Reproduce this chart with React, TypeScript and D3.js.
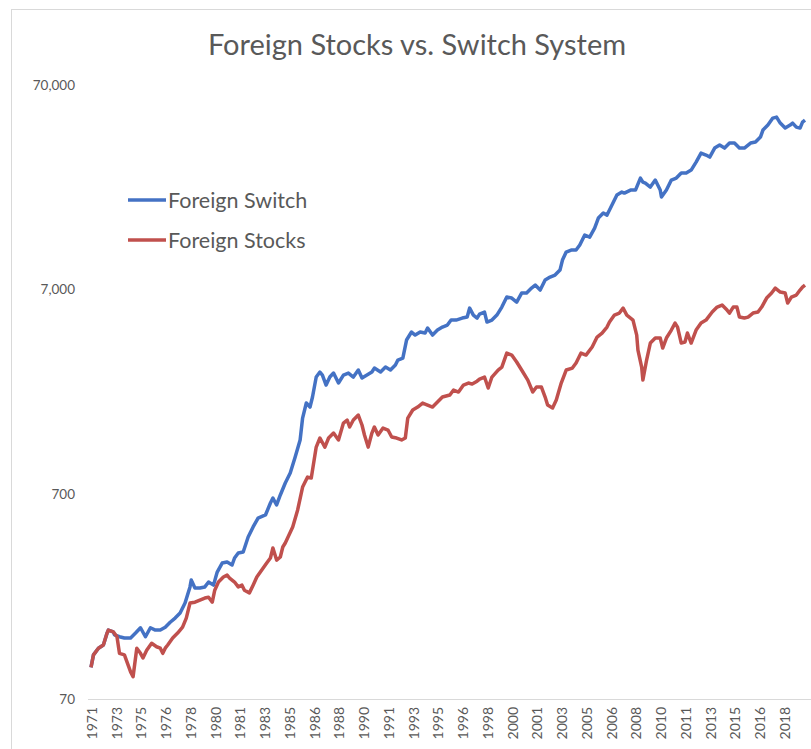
import React from 'react';
import * as d3 from 'd3';

// Monthly index (0 = first month, ~late 1971) and portfolio value
const switchMonths = [0,2,6,10,13,14,18,19,23,27,32,36,40,44,48,52,56,60,64,68,72,76,80,81,84,88,92,95,99,102,106,110,114,116,119,123,127,131,135,141,145,147,150,153,157,161,165,169,171,174,177,179,182,185,187,190,193,196,200,204,208,212,216,219,223,227,229,234,238,242,246,248,252,255,259,262,266,270,272,276,280,284,288,291,295,300,304,306,309,312,314,318,320,324,328,332,336,340,344,348,352,356,359,363,367,371,375,379,381,384,388,392,395,399,403,407,410,414,417,421,425,429,431,436,440,444,446,448,450,452,456,460,461,465,469,473,477,481,485,489,493,497,500,504,508,512,516,520,524,528,533,537,541,543,547,551,554,557,561,565,567,570,573,575,577];
const switchValues = [100,115,124,128.5,147,152,149,144,141,139,139,147,156,141,156,152,152,157,166,174,184,206,247,267,244,244,247,261,252,292,323,327,316,342,362,366,433,485,536,555,635,671,621,695,795,890,1065,1290,1651,1955,1869,2092,2619,2771,2678,2394,2619,2740,2449,2678,2740,2619,2834,2590,2678,2771,2898,2771,2931,2834,2997,3172,3244,3972,4346,4201,4346,4297,4544,4201,4444,4596,4701,4972,4972,5086,5143,5690,5258,5086,5319,5442,4862,4972,5258,5755,6441,6371,6089,6738,6738,7126,7371,6968,7797,8066,8248,8725,9767,10688,10935,10935,11567,12938,12646,13997,15666,16569,16198,18130,20293,20993,20755,21469,21469,24570,23492,23226,22701,22197,24017,21469,19845,21469,24017,24570,25991,25991,26887,29414,32543,31822,31115,34419,35602,34419,36414,36414,34419,34419,36414,36827,38962,42147,44583,48230,48776,45605,43120,44583,45605,43603,43120,46123,47166];

const stocksMonths = [0,2,6,10,13,14,18,21,23,27,32,34,37,40,42,45,49,53,56,58,60,62,66,70,74,77,80,84,88,92,95,98,100,103,107,110,112,116,119,122,124,128,131,134,138,142,145,147,150,153,155,157,163,167,171,175,178,182,185,189,192,196,200,204,207,209,212,216,219,221,224,227,229,232,236,240,243,247,251,254,256,260,264,268,272,276,280,284,290,293,297,301,305,308,312,314,318,321,324,329,332,336,340,344,349,353,357,360,364,367,369,373,376,380,384,389,392,396,400,405,409,413,417,419,423,427,430,433,436,438,441,442,445,446,449,452,456,460,462,465,469,472,474,477,480,482,485,489,493,497,502,506,510,514,516,519,522,524,528,531,535,539,542,546,550,553,557,561,563,566,570,573,575,577];
const stocksValues = [100,115,124,128.5,147,152,149,141,117,115,95,90,124,117,111,121,131,126,124,117,124,128.5,139,147,157,174,206,208,213,218,220,208,238,261,276,282,273,261,247,252,238,231,252,276,299,323,342,383,334,346,387,405,485,587,760,850,841,1191,1319,1191,1319,1395,1290,1561,1615,1493,1615,1708,1527,1364,1191,1395,1493,1364,1476,1443,1334,1319,1290,1319,1651,1807,1869,1955,1912,1869,1977,2092,2139,2263,2213,2394,2449,2420,2500,2560,2619,2314,2619,2834,2931,3431,3354,3101,2771,2532,2213,2341,2341,2092,1912,1849,2022,2449,2834,2898,3066,3431,3354,3671,4108,4297,4596,4862,5258,5381,5690,5258,5086,4972,4201,3548,2931,2532,3172,3839,4062,4062,3629,4062,4444,4808,4596,3839,3882,4297,3839,4444,4808,4972,5442,5755,5886,5564,5381,5755,5755,5143,5086,5143,5381,5442,5755,6371,6738,7126,6814,6738,6021,6441,6588,6968,7205,7371];

const xTickLabels = ['1971','1973','1975','1976','1978','1980','1981','1983','1985','1986','1988','1990','1991','1993','1995','1996','1998','2000','2001','2003','2005','2006','2008','2010','2011','2013','2015','2016','2018'];
const xTickStep = 20; // months between labelled ticks
const yTickValues = [70, 700, 7000, 70000];

const seriesNames = ['Foreign Switch', 'Foreign Stocks'];
const seriesColors = ['#4472C4', '#C0504D'];

export default function App() {
  const x = d3.scaleLinear().domain([0, 577]).range([91, 805]);
  const y = d3.scaleLog().domain([70, 70000]).range([699, 85]);
  const fmt = d3.format(',');
  const line = d3
    .line<[number, number]>()
    .x((d) => x(d[0]))
    .y((d) => y(d[1]));
  const switchData = switchMonths.map((m, i) => [m, switchValues[i]] as [number, number]);
  const stocksData = stocksMonths.map((m, i) => [m, stocksValues[i]] as [number, number]);
  const font = 'Lato, "Open Sans", sans-serif';
  const textColor = '#595959';

  return (
    <svg
      width={811}
      height={749}
      style={{ position: 'absolute', left: 0, top: 0, background: '#fff' }}
      fontFamily={font}
    >
      <rect x={0} y={0} width={811} height={749} fill="#fff" />
      <rect x={11.5} y={9.5} width={1000} height={1000} fill="none" stroke="#d9d9d9" strokeWidth={1} />
      <text x={417} y={55} textAnchor="middle" fontSize={29} fill={textColor}>
        Foreign Stocks vs. Switch System
      </text>
      {yTickValues.map((v) => (
        <text key={v} x={75} y={y(v)} dy="0.35em" textAnchor="end" fontSize={13.5} fill={textColor}>
          {fmt(v)}
        </text>
      ))}
      <line x1={88} x2={811} y1={y(70) + 0.5} y2={y(70) + 0.5} stroke="#d9d9d9" strokeWidth={1} />
      {xTickLabels.map((lab, i) => (
        <text
          key={lab + i}
          transform={`translate(${x(i * xTickStep) + 1},${707}) rotate(-90)`}
          textAnchor="end"
          dy="0.35em"
          fontSize={14}
          fill={textColor}
        >
          {lab}
        </text>
      ))}
      <path d={line(switchData) || ''} fill="none" stroke={seriesColors[0]} strokeWidth={3.5} strokeLinejoin="round" />
      <path d={line(stocksData) || ''} fill="none" stroke={seriesColors[1]} strokeWidth={3.5} strokeLinejoin="round" />
      {seriesNames.map((name, i) => (
        <g key={name} transform={`translate(128,${200 + i * 40})`}>
          <line x1={0} x2={38} y1={0} y2={0} stroke={seriesColors[i]} strokeWidth={3.5} />
          <text x={40} y={0} dy="0.35em" fontSize={21.5} fill={textColor}>
            {name}
          </text>
        </g>
      ))}
    </svg>
  );
}
